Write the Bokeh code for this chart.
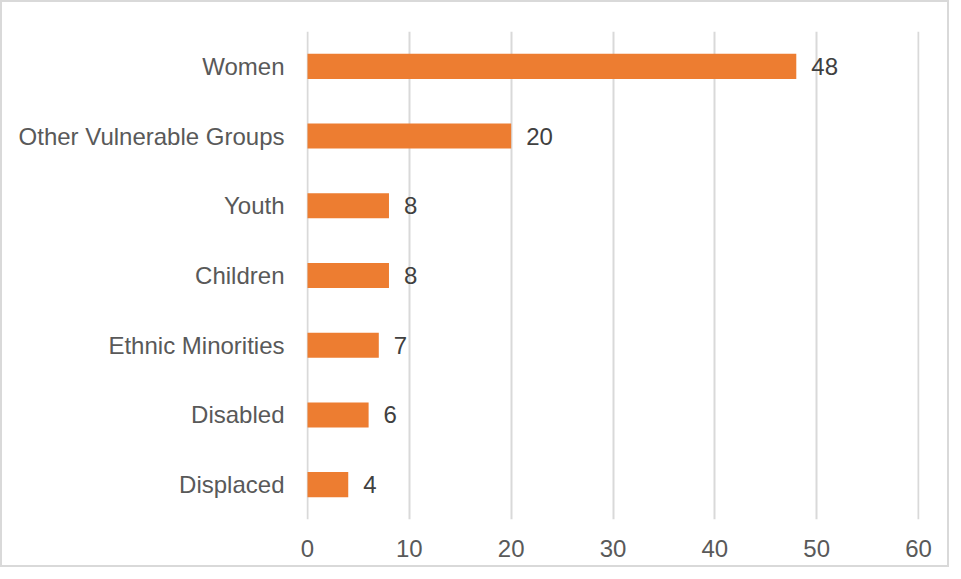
from bokeh.plotting import figure
from bokeh.models import ColumnDataSource, Range1d, FactorRange, FixedTicker, LabelSet
from bokeh.core.properties import value
from bokeh.embed import file_html
from bokeh.resources import INLINE

categories = ["Women", "Other Vulnerable Groups", "Youth", "Children",
              "Ethnic Minorities", "Disabled", "Displaced"]
values = [48, 20, 8, 8, 7, 6, 4]
x_ticks = [0, 10, 20, 30, 40, 50, 60]

BAR = "#ED7D31"
TEXT = "#595959"
GRID = "#D9D9D9"
FONT = "Liberation Sans"

src = ColumnDataSource(dict(cat=categories, val=values,
                            lab=[str(v) for v in values]))

p = figure(width=945, height=563, output_backend="svg", toolbar_location=None,
           y_range=FactorRange(factors=list(reversed(categories)), range_padding=0),
           x_range=Range1d(-0.1, 60.1),
           min_border_left=304, min_border_right=28,
           min_border_top=29, min_border_bottom=46)
p.frame_width = 613
p.frame_height = 488

p.hbar(y="cat", right="val", left=0, height=0.36, source=src,
       fill_color=BAR, line_color=None)

labels = LabelSet(x="val", y="cat", text="lab", source=src, x_offset=15,
                  text_baseline="middle", text_align="left",
                  text_font=value(FONT), text_font_size="24px", text_color="#404040")
p.add_layout(labels)

p.xaxis.ticker = FixedTicker(ticks=x_ticks)
p.xgrid.ticker = FixedTicker(ticks=x_ticks)
p.xgrid.grid_line_color = GRID
p.xgrid.grid_line_width = 2
p.ygrid.grid_line_color = None
p.outline_line_color = None

for ax in (p.xaxis, p.yaxis):
    ax.axis_line_color = None
    ax.major_tick_line_color = None
    ax.minor_tick_line_color = None
    ax.major_tick_out = 0
    ax.major_tick_in = 0
    ax.minor_tick_out = 0
    ax.major_label_text_font = FONT
    ax.major_label_text_font_size = "24px"
    ax.major_label_text_color = TEXT
p.xaxis.major_label_standoff = 20
p.yaxis.major_label_standoff = 22

p.styles = {"border": "2px solid #D9D9D9", "box-sizing": "border-box"}

open("out.html", "w").write(file_html(p, INLINE))
